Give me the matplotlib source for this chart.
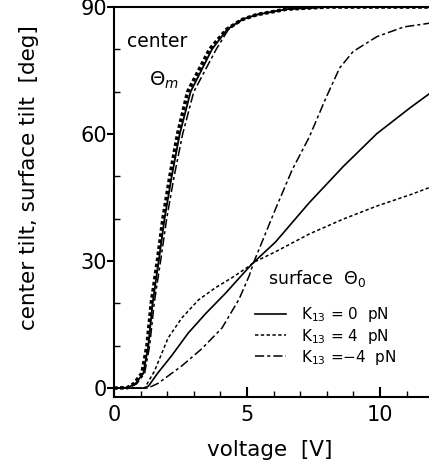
import matplotlib.pyplot as plt
from matplotlib.ticker import MultipleLocator

# center tilt (theta_m) vs voltage, three K13 values share the same theta grid
tm_deg = [0, 0.1, 1.0, 3.5, 10, 20, 30, 40, 50, 60, 70, 80, 84.7, 87.0,
          88.2, 89.5, 90, 90]
v_center_k4 = [0, 0.5, 0.74, 1.05, 1.24, 1.40, 1.63, 1.84, 2.10, 2.39,
               2.77, 3.59, 4.23, 4.8, 5.37, 6.5, 8.0, 12.0]
v_center_k0 = [0, 0.5, 0.8, 1.1, 1.29, 1.45, 1.68, 1.90, 2.17, 2.47,
               2.88, 3.68, 4.25, 4.8, 5.37, 6.5, 8.0, 12.0]
v_center_km4 = [0, 0.55, 0.85, 1.15, 1.34, 1.51, 1.75, 1.98, 2.26, 2.58,
                3.0, 3.84, 4.3, 4.82, 5.37, 6.5, 8.0, 12.0]

# surface tilt (theta_0) vs voltage
v_surf_k0 = [0, 1.15, 1.3, 1.65, 2.16, 2.79, 3.43, 4.19, 5.08, 5.25, 6.07,
             7.34, 8.61, 9.88, 11.15, 12.0]
t0_k0 = [0, 0, 0.5, 3.6, 7.6, 13.0, 17.5, 22.4, 28.6, 29.7, 34.5, 43.8,
         52.3, 60.1, 66.3, 70.2]
v_surf_k4 = [0, 1.15, 1.52, 2.03, 2.54, 3.17, 3.81, 4.44, 5.08, 5.25, 6.07,
             7.34, 8.61, 9.88, 11.15, 12.0]
t0_k4 = [0, 0, 4.0, 11.8, 16.5, 20.8, 23.7, 26.1, 28.8, 29.7, 32.2, 36.4,
         39.9, 43.0, 45.7, 47.7]
v_surf_km4 = [0, 1.27, 1.65, 2.54, 3.3, 4.06, 4.7, 5.08, 5.25, 6.07, 6.7,
              7.34, 7.97, 8.48, 8.99, 9.88, 10.9, 12.0]
t0_km4 = [0, 0, 1.1, 5.2, 9.3, 14.2, 21.0, 26.5, 29.7, 42.3, 51.6, 59.3,
          68.6, 75.6, 79.5, 83.0, 85.3, 86.3]

legend_labels = ["K$_{13}$ = 0  pN", "K$_{13}$ = 4  pN", "K$_{13}$ =$-$4  pN"]

plt.rcParams['font.family'] = 'DejaVu Sans'
fig = plt.figure(figsize=(4.29, 4.67), dpi=100)
ax = fig.add_axes([114 / 429, 1 - 397 / 467, 1.01 - 114 / 429, 390 / 467])

dot = (0, (2.2, 1.6))
dashdot = (0, (6, 2, 2, 2))

ax.plot(v_center_k0, tm_deg, color='black', lw=1.3)
ax.plot(v_center_k4, tm_deg, color='black', lw=2.6, linestyle=(0, (1, 0.7)))
ax.plot(v_center_km4, tm_deg, color='black', lw=1.1, linestyle=dashdot)

ax.plot(v_surf_k0, t0_k0, color='black', lw=1.2, label=legend_labels[0])
ax.plot(v_surf_k4, t0_k4, color='black', lw=1.1, linestyle=dot,
        label=legend_labels[1])
ax.plot(v_surf_km4, t0_km4, color='black', lw=1.1, linestyle=dashdot,
        label=legend_labels[2])

ax.set_xlim(0, 12)
ax.set_ylim(-2.1, 90)
ax.xaxis.set_major_locator(MultipleLocator(5))
ax.xaxis.set_minor_locator(MultipleLocator(1))
ax.yaxis.set_major_locator(MultipleLocator(30))
ax.yaxis.set_minor_locator(MultipleLocator(10))
ax.tick_params(axis='x', which='major', direction='in', length=7, width=1.5,
               labelsize=15, pad=6)
ax.tick_params(axis='x', which='minor', direction='in', length=4, width=1)
ax.tick_params(axis='y', which='major', direction='out', length=5, width=1.5,
               labelsize=15, pad=0)
ax.tick_params(axis='y', which='minor', direction='in', length=4, width=1)
for s in ax.spines.values():
    s.set_linewidth(1.5)
ax.spines['right'].set_visible(False)

ax.text(0.5, 80.5, "center", fontsize=13.5)
ax.text(1.3, 71.5, r"$\Theta_m$", fontsize=14)
ax.text(5.8, 24.5, r"surface  $\Theta_0$", fontsize=12.5)

ax.legend(loc='center left', bbox_to_anchor=(255 / 429, 1 - 336 / 467),
          bbox_transform=fig.transFigure, frameon=False, borderpad=0,
          borderaxespad=0, fontsize=11, handlelength=2.0,
          handletextpad=1.0, labelspacing=0.15)

fig.text(270 / 429, 1 - 450 / 467, "voltage  [V]", fontsize=15.5,
         ha='center', va='center')
fig.text(29 / 429, 1 - 178 / 467, "center tilt, surface tilt  [deg]",
         fontsize=15.5, rotation=90, ha='center', va='center')

fig.savefig('out.png', dpi=100)
